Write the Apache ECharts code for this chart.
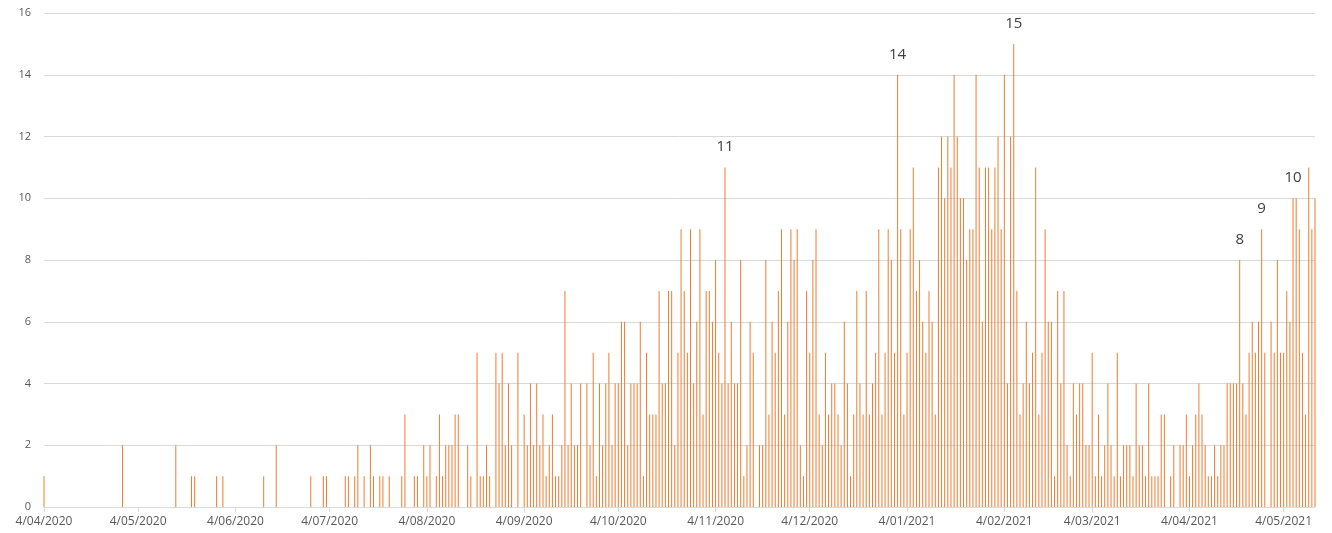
<!DOCTYPE html>
<html>
<head>
<meta charset="utf-8">
<style>
  html, body { margin: 0; padding: 0; background: #fff; }
  #chart { width: 1332px; height: 533px; }
</style>
<script src="https://cdn.jsdelivr.net/npm/echarts@6/dist/echarts.min.js"></script>
</head>
<body>
<div id="chart"></div>
<script>
// first day of the series, one bar per day after it
const startDate = [2020, 3, 4] // 4 April 2020 (month is 0-based)

// daily counts, 10 days per row
const counts = [
  1, 0, 0, 0, 0, 0, 0, 0, 0, 0,
  0, 0, 0, 0, 0, 0, 0, 0, 0, 0,
  0, 0, 0, 0, 0, 2, 0, 0, 0, 0,
  0, 0, 0, 0, 0, 0, 0, 0, 0, 0,
  0, 0, 2, 0, 0, 0, 0, 1, 1, 0,
  0, 0, 0, 0, 0, 1, 0, 1, 0, 0,
  0, 0, 0, 0, 0, 0, 0, 0, 0, 0,
  1, 0, 0, 0, 2, 0, 0, 0, 0, 0,
  0, 0, 0, 0, 0, 1, 0, 0, 0, 1,
  1, 0, 0, 0, 0, 0, 1, 1, 0, 1,
  2, 0, 1, 0, 2, 1, 0, 1, 1, 0,
  1, 0, 0, 0, 1, 3, 0, 0, 1, 1,
  0, 2, 1, 2, 0, 1, 3, 1, 2, 2,
  2, 3, 3, 0, 0, 2, 1, 0, 5, 1,
  1, 2, 1, 0, 5, 4, 5, 2, 4, 2,
  0, 5, 0, 3, 2, 4, 2, 4, 2, 3,
  1, 2, 3, 1, 1, 2, 7, 2, 4, 2,
  2, 4, 0, 4, 2, 5, 1, 4, 2, 4,
  5, 2, 4, 4, 6, 6, 2, 4, 4, 4,
  6, 1, 5, 3, 3, 3, 7, 4, 4, 7,
  7, 2, 5, 9, 7, 5, 9, 4, 6, 9,
  3, 7, 7, 6, 8, 5, 4, 11, 4, 6,
  4, 4, 8, 1, 2, 6, 5, 0, 2, 2,
  8, 3, 6, 5, 7, 9, 3, 6, 9, 8,
  9, 2, 1, 7, 5, 8, 9, 3, 2, 5,
  3, 4, 4, 3, 2, 6, 4, 1, 3, 7,
  4, 3, 7, 3, 4, 5, 9, 3, 5, 9,
  8, 5, 14, 9, 3, 5, 9, 11, 7, 8,
  6, 5, 7, 6, 3, 11, 12, 10, 12, 11,
  14, 12, 10, 10, 8, 9, 9, 14, 11, 6,
  11, 11, 9, 11, 12, 9, 14, 4, 12, 15,
  7, 3, 4, 6, 4, 5, 11, 3, 5, 9,
  6, 6, 1, 7, 4, 7, 2, 1, 4, 3,
  4, 4, 2, 2, 5, 1, 3, 1, 2, 4,
  2, 1, 5, 1, 2, 2, 2, 1, 4, 2,
  2, 1, 4, 1, 1, 1, 3, 3, 0, 1,
  2, 0, 2, 2, 3, 1, 2, 3, 4, 3,
  2, 1, 1, 2, 1, 2, 2, 4, 4, 4,
  4, 8, 4, 3, 5, 6, 5, 6, 9, 5,
  0, 6, 5, 8, 5, 5, 7, 6, 10, 10,
  9, 5, 3, 11, 9, 10
]

// bars that carry a value label
const labelledDays = ['7/11/2020', '1/01/2021', '7/02/2021', '20/04/2021', '27/04/2021', '7/05/2021']

// x tick labels fall on this day of each month
const tickDay = 4

function fmt(d) {
  const m = d.getUTCMonth() + 1
  return d.getUTCDate() + '/' + (m < 10 ? '0' + m : m) + '/' + d.getUTCFullYear()
}

const days = counts.map((v, i) => fmt(new Date(Date.UTC(startDate[0], startDate[1], startDate[2] + i))))
const isTick = (idx, val) => parseInt(val, 10) === tickDay

const chart = echarts.init(document.getElementById('chart'), null, { renderer: 'canvas' })
chart.setOption({
  animation: false,
  backgroundColor: '#ffffff',
  textStyle: { fontFamily: 'Open Sans' },
  grid: { left: 44, right: 17, top: 13, bottom: 26 },
  xAxis: {
    type: 'category',
    data: days,
    boundaryGap: false,
    axisLine: { lineStyle: { color: '#d9d9d9' } },
    axisTick: { show: true, interval: isTick, length: 5, lineStyle: { color: '#d9d9d9' } },
    axisLabel: { interval: isTick, color: '#595959', fontSize: 12, margin: 9 },
    splitLine: { show: false }
  },
  yAxis: {
    type: 'value',
    min: 0,
    max: 16,
    interval: 2,
    axisLine: { show: false },
    axisTick: { show: false },
    axisLabel: { color: '#595959', fontSize: 11, margin: 13 },
    splitLine: { lineStyle: { color: '#d9d9d9' } }
  },
  series: [{
    type: 'bar',
    barWidth: 1,
    itemStyle: { color: '#ED7D31' },
    data: counts.map((v, i) => {
      if (labelledDays.indexOf(days[i]) < 0) return v
      return {
        value: v,
        label: { show: true, position: 'top', distance: 13, color: '#404040', fontSize: 15 }
      }
    })
  }]
})
</script>
</body>
</html>
